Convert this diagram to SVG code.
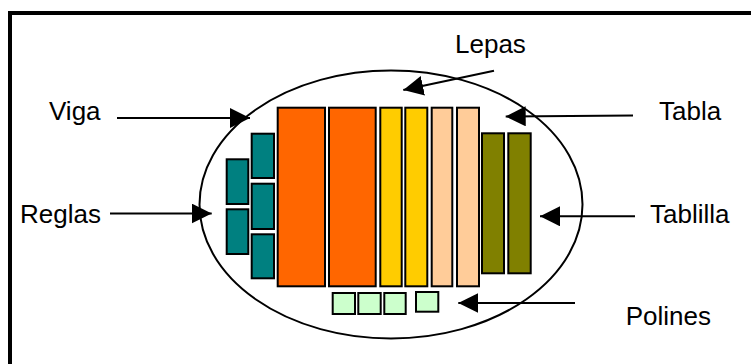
<svg xmlns="http://www.w3.org/2000/svg" width="751" height="364" viewBox="0 0 751 364">
  <style>
    .lbl { font-family: "Liberation Sans", Arial, sans-serif; font-size: 26px; fill: #000; }
    .blk { stroke: #000; stroke-width: 2; }
    .viga { fill: #FF6600; }
    .lepa { fill: #FFCC00; }
    .tabla { fill: #FFCC99; }
    .tablilla { fill: #808000; }
    .regla { fill: #008080; }
    .polin { fill: #CCFFCC; }
    .conn { stroke: #000; stroke-width: 2; fill: none; marker-end: url(#head); }
  </style>
  <defs>
    <marker id="head" markerUnits="userSpaceOnUse" markerWidth="20" markerHeight="20" refX="20" refY="10" orient="auto">
      <path d="M0,0 L20,10 L0,20 z" fill="#000"/>
    </marker>
  </defs>

  <rect width="751" height="364" fill="#fff"/>
  <!-- frame -->
  <path d="M10,364 L10,13 L751,13" fill="none" stroke="#000" stroke-width="4"/>

  <!-- enclosing ellipse -->
  <ellipse cx="391" cy="204.5" rx="191.5" ry="134" fill="none" stroke="#000" stroke-width="2"/>

  <g id="vigas">
    <rect class="blk viga" x="277.7" y="107.7" width="47.3" height="178.6"/>
    <rect class="blk viga" x="329" y="107.7" width="46.7" height="178.6"/>
  </g>
  <g id="lepas">
    <rect class="blk lepa" x="380.3" y="107.7" width="21.4" height="178.6"/>
    <rect class="blk lepa" x="405.3" y="107.7" width="22" height="178.6"/>
  </g>
  <g id="tablas">
    <rect class="blk tabla" x="431.7" y="107.7" width="20.6" height="178.6"/>
    <rect class="blk tabla" x="457" y="107.7" width="22" height="178.6"/>
  </g>
  <g id="tablillas">
    <rect class="blk tablilla" x="482" y="133.3" width="22" height="140"/>
    <rect class="blk tablilla" x="508.3" y="133.3" width="22.4" height="140"/>
  </g>
  <g id="reglas">
    <rect class="blk regla" x="251.7" y="133.7" width="22.3" height="44.3"/>
    <rect class="blk regla" x="251.7" y="183.7" width="22.3" height="45.3"/>
    <rect class="blk regla" x="251.7" y="234.3" width="22.3" height="44"/>
    <rect class="blk regla" x="226.7" y="159.3" width="21.6" height="44.7"/>
    <rect class="blk regla" x="226.7" y="209.3" width="21.6" height="44.7"/>
  </g>
  <g id="polines">
    <rect class="blk polin" x="332.7" y="293" width="22.3" height="21"/>
    <rect class="blk polin" x="358.3" y="293" width="22.4" height="21"/>
    <rect class="blk polin" x="384.3" y="293" width="21.4" height="21"/>
    <rect class="blk polin" x="416" y="292" width="22.3" height="19.7"/>
  </g>

  <g id="connectors">
    <line class="conn" x1="117" y1="118" x2="250" y2="118"/>
    <line class="conn" x1="494" y1="70.7" x2="403.3" y2="90"/>
    <line class="conn" x1="633" y1="115.5" x2="505.7" y2="116.5"/>
    <line class="conn" x1="110" y1="213.5" x2="211.7" y2="213.5"/>
    <line class="conn" x1="635" y1="216.3" x2="540" y2="216.3"/>
    <line class="conn" x1="575" y1="303" x2="458.3" y2="303"/>
  </g>

  <g id="labels">
    <text class="lbl" x="49" y="120">Viga</text>
    <text class="lbl" x="455" y="53.3">Lepas</text>
    <text class="lbl" x="659" y="120">Tabla</text>
    <text class="lbl" x="20" y="222.7">Reglas</text>
    <text class="lbl" x="650" y="222.7">Tablilla</text>
    <text class="lbl" x="625.7" y="324.7">Polines</text>
  </g>
</svg>
